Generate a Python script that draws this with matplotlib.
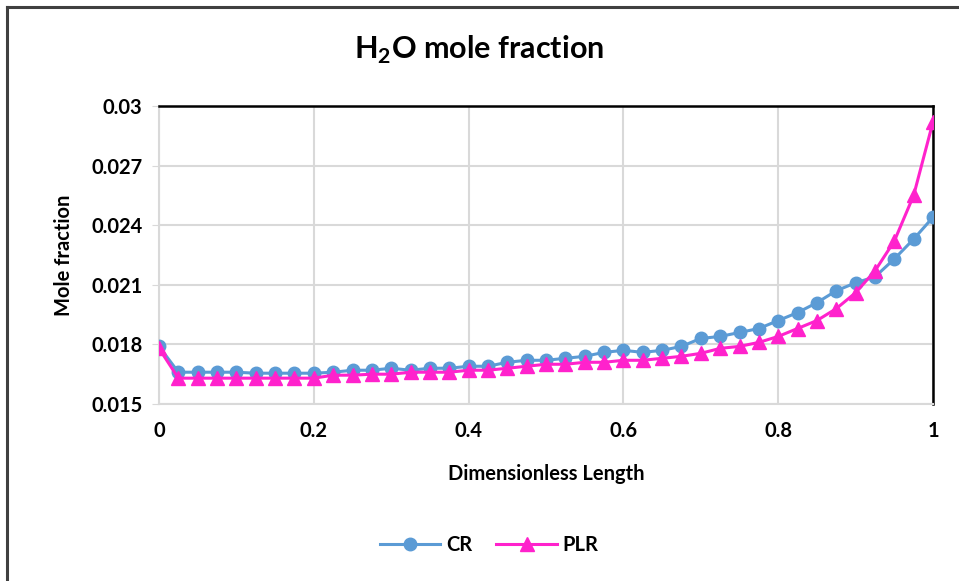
import numpy as np
import matplotlib.pyplot as plt
from matplotlib.lines import Line2D

plt.rcParams['font.family'] = ['Lato', 'DejaVu Sans']
plt.rcParams['font.weight'] = 'bold'
plt.rcParams['mathtext.fontset'] = 'custom'
plt.rcParams['mathtext.bf'] = 'Lato:bold'
plt.rcParams['mathtext.rm'] = 'Lato:bold'

x = [i * 0.025 for i in range(41)]

cr = [0.0179, 0.0166, 0.0166, 0.0166, 0.0166, 0.01655, 0.01655, 0.01655, 0.01655,
      0.0166, 0.0167, 0.0167, 0.0168, 0.0167, 0.0168, 0.0168, 0.0169, 0.0169,
      0.0171, 0.0172, 0.0172, 0.0173, 0.0174, 0.0176, 0.0177, 0.0176, 0.0177,
      0.0179, 0.0183, 0.0184, 0.0186, 0.0188, 0.0192, 0.0196, 0.0201, 0.0207,
      0.0211, 0.0214, 0.0223, 0.0233, 0.0244]

plr = [0.0178, 0.0163, 0.0163, 0.0163, 0.0163, 0.0163, 0.0163, 0.0163, 0.0163,
       0.01645, 0.01645, 0.0165, 0.0165, 0.0166, 0.0166, 0.0166, 0.0167, 0.0167,
       0.0168, 0.0169, 0.0170, 0.0170, 0.0171, 0.0171, 0.0172, 0.0172, 0.0173,
       0.0174, 0.01755, 0.0178, 0.0179, 0.0181, 0.0184, 0.0188, 0.0192, 0.0198,
       0.0206, 0.0217, 0.0232, 0.0255, 0.0292]

xticks = [0, 0.2, 0.4, 0.6, 0.8, 1]
xtick_labels = ['0', '0.2', '0.4', '0.6', '0.8', '1']
yticks = [0.015, 0.018, 0.021, 0.024, 0.027, 0.03]
ytick_labels = ['0.015', '0.018', '0.021', '0.024', '0.027', '0.03']

blue = '#5b9bd5'
pink = '#ff22cc'
grid_c = '#d9d9d9'

fig = plt.figure(figsize=(9.59, 5.81), dpi=100)
ax = fig.add_axes([159/959, 1 - 404/581, (933-159)/959, (404-106)/581])

ax.plot(x, cr, color=blue, marker='o', markersize=9, linewidth=2.2, label='CR', zorder=3)
ax.plot(x, plr, color=pink, marker='^', markersize=9.5, linewidth=2.2, label='PLR', zorder=4)

ax.set_xlim(0, 1)
ax.set_ylim(0.015, 0.03)
ax.set_xticks(xticks)
ax.set_xticklabels(xtick_labels)
ax.set_yticks(yticks)
ax.set_yticklabels(ytick_labels)
ax.grid(True, color=grid_c, linewidth=1.5)
ax.set_axisbelow(True)

for s in ['left', 'bottom']:
    ax.spines[s].set_color(grid_c)
    ax.spines[s].set_linewidth(1.5)
for s in ['top', 'right']:
    ax.spines[s].set_color('black')
    ax.spines[s].set_linewidth(1.8)

ax.tick_params(axis='x', length=0, pad=12, labelsize=14.5)
ax.tick_params(axis='y', length=5, color=grid_c, pad=7, labelsize=14.5)

ax.set_xlabel('Dimensionless Length', fontsize=14.5, fontweight='bold', labelpad=17)
ax.set_ylabel('Mole fraction', fontsize=14.5, fontweight='bold', labelpad=12)

fig.text(0.5, 1 - 50/581, 'H$_\\mathbf{2}$O mole fraction', ha='center', va='center',
         fontsize=22, fontweight='bold')

ax.legend(loc='center', bbox_to_anchor=(0.51, 1 - 545/581), bbox_transform=fig.transFigure,
          ncol=2, frameon=False, fontsize=14.5, handlelength=3.0, columnspacing=1.2,
          handletextpad=0.3)

# outer frame (left and top edges only)
fig.add_artist(Line2D([7/959, 7/959], [0, 1 - 7/581], color='#404040', linewidth=2.2,
                      transform=fig.transFigure))
fig.add_artist(Line2D([7/959, 1], [1 - 7/581, 1 - 7/581], color='#404040', linewidth=2.2,
                      transform=fig.transFigure))

fig.savefig('out.png', dpi=100)
